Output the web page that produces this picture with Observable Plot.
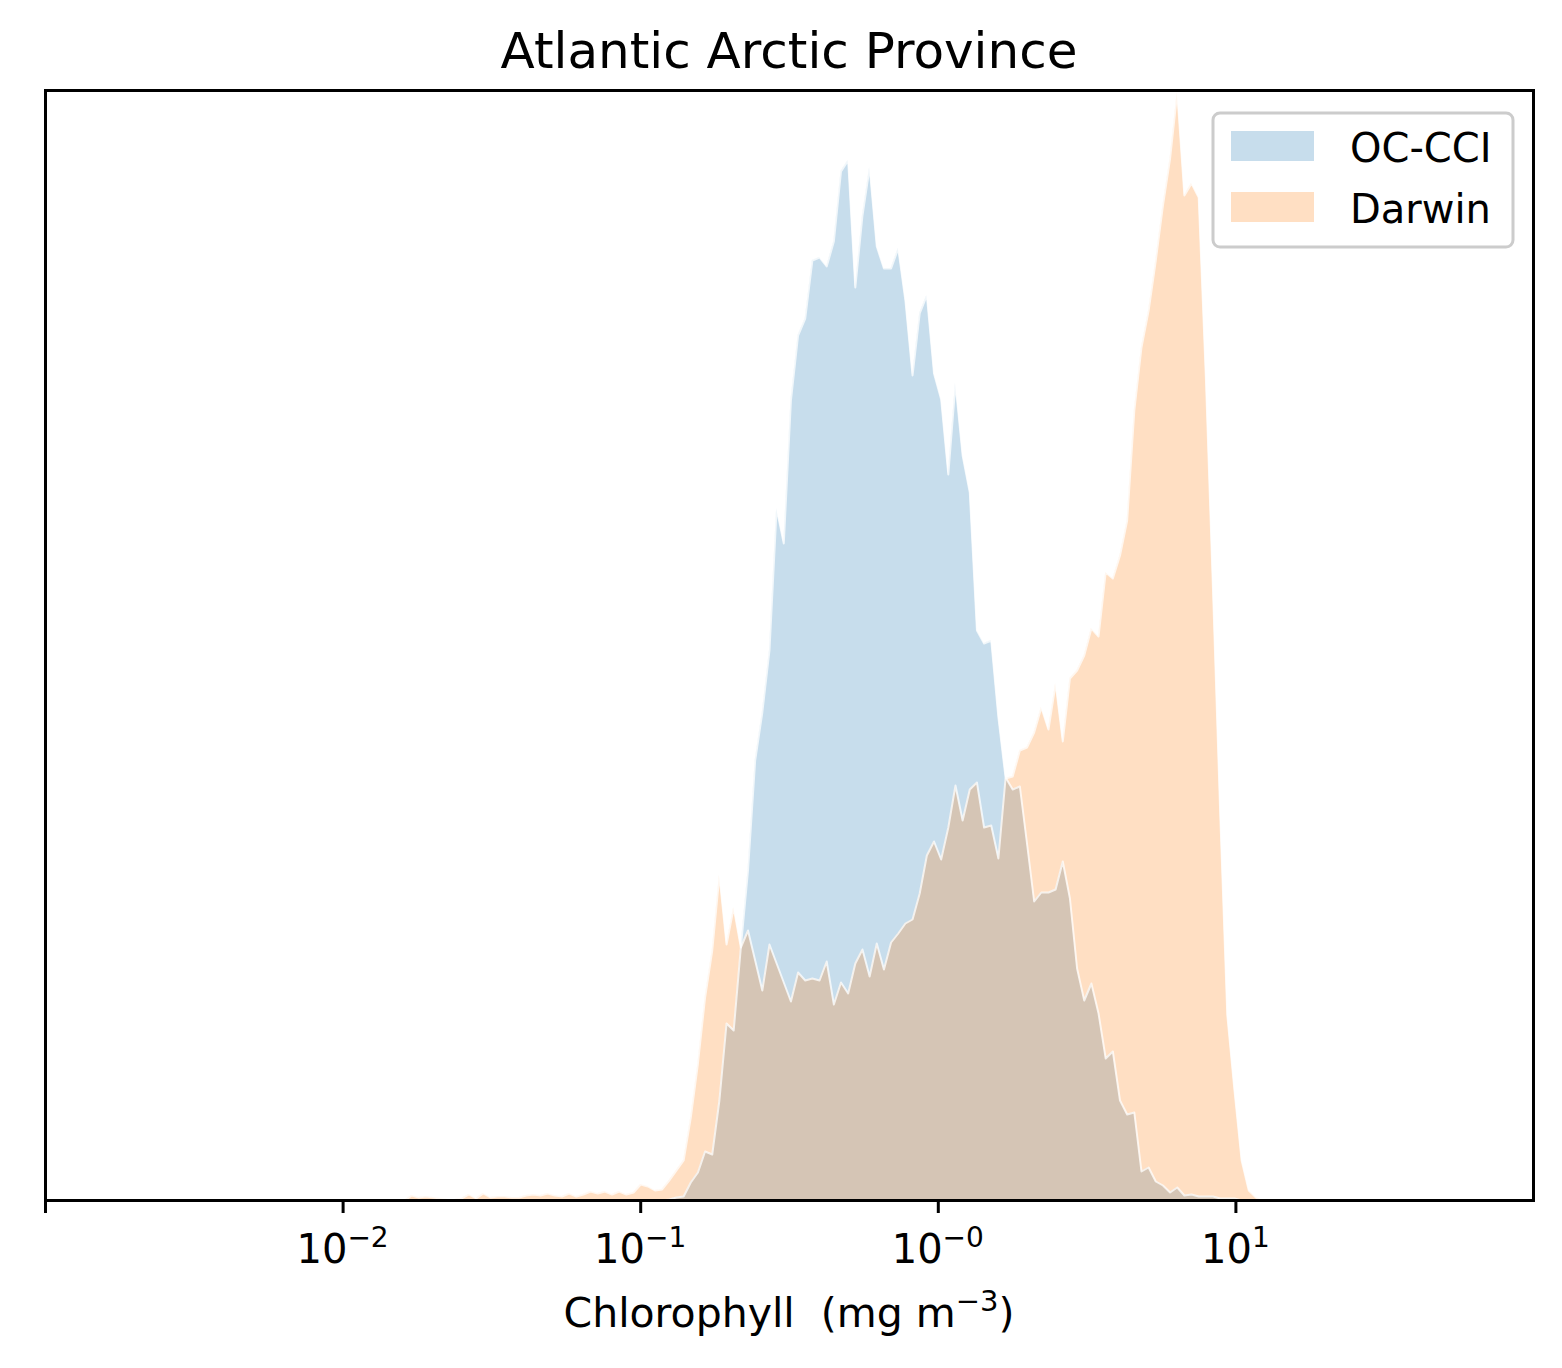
<!DOCTYPE html>
<html>
<head>
<meta charset="utf-8">
<script src="https://cdn.jsdelivr.net/npm/d3@7"></script>
<script src="https://cdn.jsdelivr.net/npm/@observablehq/plot@0.6"></script>
<style>
  html, body { margin: 0; padding: 0; background: #ffffff; }
  #chart svg { display: block; }
</style>
</head>
<body>
<div id="chart"></div>
<script>
// ---- Data ----
const title = "Atlantic Arctic Province";
const seriesNames = ["OC-CCI", "Darwin"];
const seriesColors = ["#1f77b4", "#ff7f0e"];

// histogram bin grid: log-spaced bins from 10^-3 to 10^2
const logMin = -3, logMax = 2, binCount = 208;

// OC-CCI histogram counts, starting at bin index 86
const occciStart = 86;
const occciCounts = [0, 1, 3, 4, 18, 28, 49, 46, 100, 177, 170, 253, 330, 440, 488, 550,
  692, 657, 800, 865, 882, 940, 943, 934, 959, 1029, 1040, 913, 985, 1033, 954, 932,
  932, 952, 900, 825, 887, 905, 827, 801, 726, 817, 745, 708, 570, 557, 560, 483,
  423, 411, 414, 357, 299, 308, 308, 311, 339, 302, 232, 200, 217, 187, 142, 149,
  100, 86, 88, 29, 33, 19, 15, 8, 13, 5, 6, 4, 4, 4, 2, 2, 2, 0];

// Darwin histogram counts, starting at bin index 43
const darwinStart = 43;
const darwinCounts = [0, 0, 1, 1, 1, 0, 0, 0, 5, 3, 4, 3, 2, 1, 1, 2, 6, 2, 7, 3, 4, 4,
  3, 3, 5, 6, 5, 7, 5, 4, 7, 4, 6, 9, 7, 9, 6, 9, 6, 8, 16, 14, 10, 11, 20, 30, 40,
  83, 137, 203, 250, 325, 256, 293, 253, 270, 240, 210, 256, 237, 218, 199, 228, 220,
  222, 220, 239, 196, 218, 207, 237, 251, 224, 257, 231, 258, 267, 277, 281, 307,
  345, 359, 341, 373, 415, 380, 411, 418, 373, 375, 342, 422, 424, 450, 453, 468,
  493, 471, 517, 459, 522, 530, 545, 572, 564, 628, 622, 645, 680, 790, 853, 890,
  940, 995, 1042, 1108, 1005, 1017, 1003, 823, 610, 388, 185, 110, 40, 10, 3, 0];

const xTicks = [0.001, 0.01, 0.1, 1, 10];
const xTickBase = ["", "10", "10", "10", "10"];
const xTickExp = ["", "\u22122", "\u22121", "\u22120", "1"];
const xLabelMain = "Chlorophyll  (mg m";
const xLabelExp = "\u22123";
const yMax = 1110;

// ---- Build tables ----
const binX = i => Math.pow(10, logMin + (i + 0.2) * (logMax - logMin) / binCount);
const occci = occciCounts.map((c, k) => ({chl: binX(occciStart + k), count: c}));
const darwin = darwinCounts.map((c, k) => ({chl: binX(darwinStart + k), count: c}));

const W = 1562, H = 1368;
const mL = 45, mR = 29, mT = 90, mB = 168;
const FONT = "DejaVu Sans";

const chart = Plot.plot({
  width: W,
  height: H,
  marginLeft: mL,
  marginRight: mR,
  marginTop: mT,
  marginBottom: mB,
  style: {fontFamily: FONT, background: "white", fontSize: "40px", color: "black"},
  x: {type: "log", domain: [0.001, 100]},
  y: {domain: [0, yMax], axis: null},
  marks: [
    Plot.areaY(occci, {x: "chl", y: "count", fill: seriesColors[0], fillOpacity: 0.25, curve: "linear"}),
    Plot.areaY(darwin, {x: "chl", y: "count", fill: seriesColors[1], fillOpacity: 0.25, curve: "linear"}),
    Plot.lineY(occci, {x: "chl", y: "count", stroke: "white", strokeWidth: 2, strokeOpacity: 0.75, curve: "linear"}),
    Plot.lineY(darwin, {x: "chl", y: "count", stroke: "white", strokeWidth: 2, strokeOpacity: 0.75, curve: "linear"}),
    Plot.axisX({ticks: xTicks, tickFormat: () => "", tickSize: 13, stroke: "black", strokeWidth: 3, label: null}),
    Plot.frame({stroke: "black", strokeWidth: 3})
  ]
});

document.getElementById("chart").appendChild(chart);

const svg = d3.select(chart);
const xs = chart.scale("x");
const plotCenter = (mL + (W - mR)) / 2;

// title
svg.append("text")
  .attr("x", plotCenter).attr("y", 68)
  .attr("text-anchor", "middle")
  .attr("font-family", FONT).attr("font-size", 50).attr("fill", "black")
  .text(title);

// tick labels with superscripts
xTicks.forEach((t, i) => {
  if (!xTickBase[i]) return;
  const tx = svg.append("text")
    .attr("x", xs.apply(t)).attr("y", 1263)
    .attr("text-anchor", "middle")
    .attr("font-family", FONT).attr("font-size", 40).attr("fill", "black");
  tx.append("tspan").text(xTickBase[i]);
  tx.append("tspan").attr("dy", -16).attr("font-size", 28).text(xTickExp[i]);
});

// x label
const xl = svg.append("text")
  .attr("x", plotCenter).attr("y", 1327)
  .attr("text-anchor", "middle")
  .attr("font-family", FONT).attr("font-size", 41).attr("fill", "black")
  .style("white-space", "pre");
xl.append("tspan").text(xLabelMain);
xl.append("tspan").attr("dy", -16).attr("font-size", 29).text(xLabelExp);
xl.append("tspan").attr("dy", 16).text(")");

// legend
const lg = svg.append("g");
lg.append("rect")
  .attr("x", 1213).attr("y", 113).attr("width", 300).attr("height", 134)
  .attr("rx", 7).attr("fill", "white").attr("fill-opacity", 0.8)
  .attr("stroke", "#cccccc").attr("stroke-width", 3);
seriesNames.forEach((name, i) => {
  const yTop = 131 + i * 61;
  lg.append("rect")
    .attr("x", 1231).attr("y", yTop).attr("width", 83).attr("height", 30)
    .attr("fill", seriesColors[i]).attr("fill-opacity", 0.25);
  lg.append("text")
    .attr("x", 1350).attr("y", yTop + 31)
    .attr("text-anchor", "start")
    .attr("font-family", FONT).attr("font-size", 40).attr("fill", "black")
    .text(name);
});
</script>
</body>
</html>
